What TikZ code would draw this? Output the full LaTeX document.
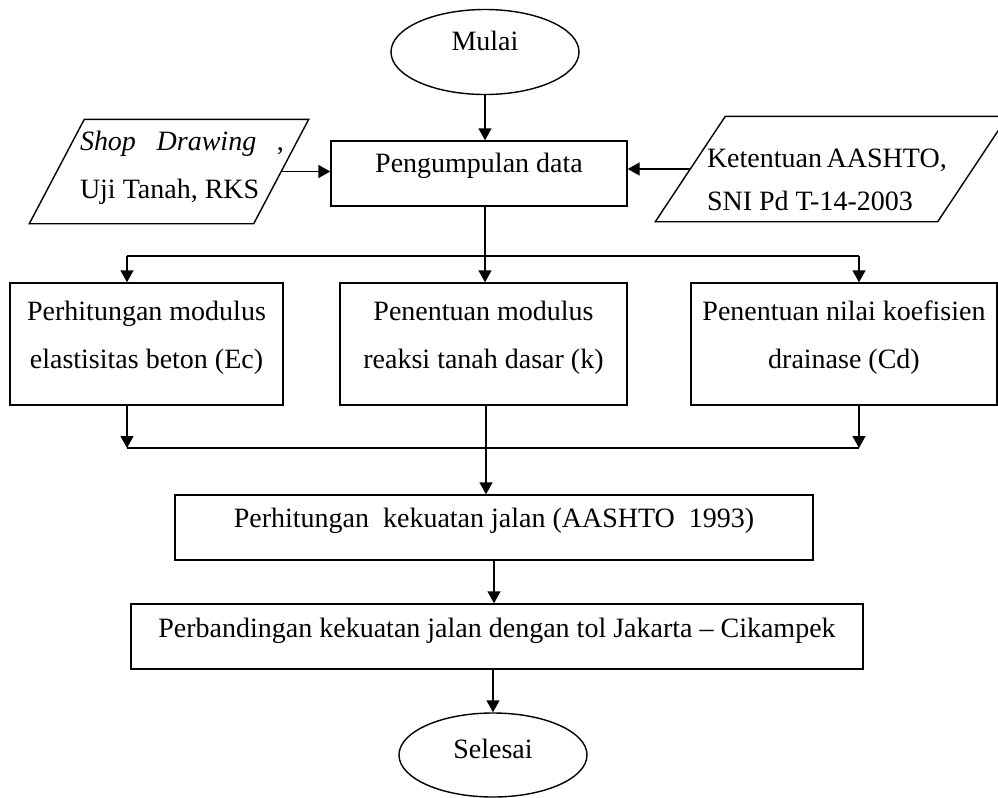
\documentclass[tikz,border=0pt]{standalone}
\usepackage{fontspec}
\setmainfont{Liberation Serif}
\usetikzlibrary{arrows.meta,shapes.geometric,calc}
\newcommand{\teks}{\fontsize{14}{24}\selectfont}
\tikzset{
  terminal/.style = {draw, ellipse, inner sep=0pt, font=\teks,
                     minimum width=94pt, minimum height=42.5pt},
  proses/.style   = {draw, rectangle, inner sep=0pt, align=center, font=\teks,
                     minimum height=32.5pt},
  hitung/.style   = {draw, rectangle, inner sep=0pt, align=center, font=\teks,
                     minimum height=61pt, text height=42.5pt, text depth=18.5pt},
  masukan/.style  = {rectangle, inner sep=0pt, font=\teks},
  panah/.style    = {-{Triangle[length=6pt,width=6.5pt]}},
}

\begin{document}
\begin{tikzpicture}[x=0.5pt, y=-0.5pt, line width=0.7pt]
  \useasboundingbox (0,0) rectangle (998,798);

  \node[terminal, text height=10pt, text depth=12pt] (mulai) at (485,52) {Mulai};
  \node[proses, minimum width=148pt, text height=15.5pt, text depth=17pt]
    (kumpul) at (479,173.5) {Pengumpulan data};

  \node[masukan, minimum width=111.5pt, minimum height=51.5pt,
        text height=10pt, text depth=31.5pt] (shop) at (169,171.5)
    {\makebox[0pt]{\hspace*{13pt}\begin{tabular}[t]{@{}l@{}}
       \makebox[102pt][s]{\textit{Shop} \textit{Drawing} ,}\\
       Uji Tanah, RKS\end{tabular}}};
  \draw ($(shop.south west)+(-27.5,0)$) -- ($(shop.south east)+(-27.5,0)$)
     -- ($(shop.north east)+(27.5,0)$) -- ($(shop.north west)+(27.5,0)$) -- cycle;

  \node[masukan, minimum width=140.5pt, minimum height=52pt,
        text height=12pt, text depth=14pt] (aashto) at (831.5,169)
    {\makebox[0pt]{\hspace*{-6pt}\begin{tabular}[t]{@{}l@{}}
       \makebox[118.5pt][s]{Ketentuan AASHTO,}\\[-2.5pt]
       SNI Pd T-14-2003\end{tabular}}};
  \draw ($(aashto.south west)+(-35,0)$) -- ($(aashto.south east)+(-35,0)$)
     -- ($(aashto.north east)+(35,0)$) -- ($(aashto.north west)+(35,0)$) -- cycle;

  \node[hitung, minimum width=136.5pt] (elastis) at (146.5,344)
    {Perhitungan modulus\\ elastisitas beton (Ec)};
  \node[hitung, minimum width=143.5pt] (reaksi) at (483.5,344)
    {Penentuan modulus\\ reaksi tanah dasar (k)};
  \node[hitung, minimum width=153pt] (drainase) at (844,344)
    {Penentuan nilai koefisien\\ drainase (Cd)};

  \node[proses, minimum width=319pt, text height=16pt, text depth=16.5pt]
    (kuat) at (494,527.5) {Perhitungan\ \ kekuatan jalan (AASHTO\ \ 1993)};
  \node[proses, minimum width=366pt, text height=16.5pt, text depth=16pt]
    (banding) at (497,636.5) {Perbandingan kekuatan jalan dengan tol Jakarta -- Cikampek};
  \node[terminal, minimum height=42pt, text height=10pt, text depth=7pt]
    (selesai) at (493,755) {Selesai};

  \coordinate (cabang) at (485,256);
  \coordinate (cabkiri) at (127,256);
  \coordinate (cabkanan) at (859,256);
  \coordinate (gabung) at (486,448);
  \coordinate (gabkiri) at (127,448);
  \coordinate (gabkanan) at (859,448);

  \draw[panah] (mulai.south) -- (mulai.south |- kumpul.north);
  \draw[panah] (shop.east) -- (shop.east -| kumpul.west);
  \draw[panah] (aashto.west) -- (aashto.west -| kumpul.east);

  \draw (cabang |- kumpul.south) -- (cabang);
  \draw (cabkiri) -- (cabkanan);
  \draw[panah] (cabang) -- (cabang |- reaksi.north);
  \draw[panah] (cabkiri) -- (cabkiri |- elastis.north);
  \draw[panah] (cabkanan) -- (cabkanan |- drainase.north);

  \draw[panah] (gabkiri |- elastis.south) -- (gabkiri);
  \draw[panah] (gabkanan |- drainase.south) -- (gabkanan);
  \draw (gabkiri) -- (gabkanan);
  \draw (gabung |- reaksi.south) -- (gabung);
  \draw[panah] (gabung) -- (gabung |- kuat.north);

  \draw[panah] (kuat.south) -- (kuat.south |- banding.north);
  \draw[panah] (selesai.north |- banding.south) -- (selesai.north);
\end{tikzpicture}
\end{document}
